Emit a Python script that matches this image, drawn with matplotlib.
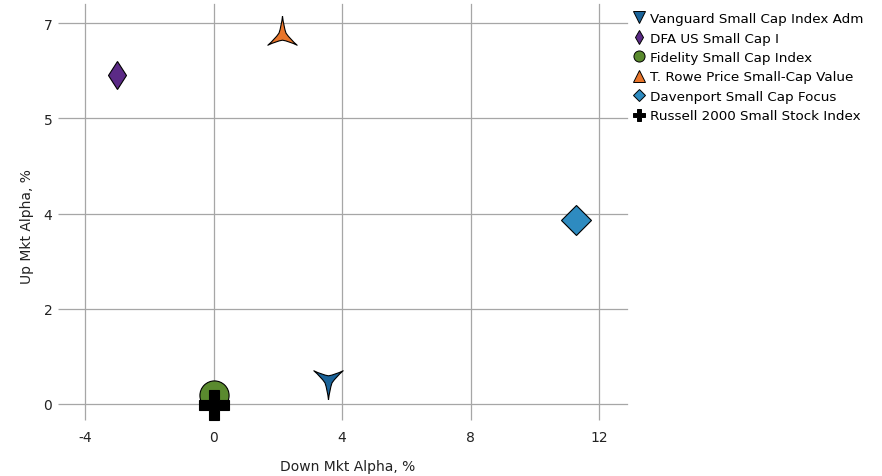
import matplotlib
matplotlib.use("Agg")
import matplotlib.pyplot as plt
from matplotlib.path import Path
from matplotlib.lines import Line2D
import numpy as np

# data
funds = ["Vanguard Small Cap Index Adm", "DFA US Small Cap I", "Fidelity Small Cap Index",
         "T. Rowe Price Small-Cap Value", "Davenport Small Cap Focus", "Russell 2000 Small Stock Index"]
down_alpha = [3.56, -3.0, 0.02, 2.13, 11.28, 0.02]
up_alpha = [0.45, 6.05, 0.17, 6.78, 3.38, -0.01]
colors = ["#1a6399", "#5b2a86", "#5a8a2e", "#e8752a", "#2e8bc0", "#000000"]

xticks = [-4, 0, 4, 8, 12]
yticks = [0, 1.75, 3.5, 5.25, 7]
ytick_labels = ["0", "2", "4", "5", "7"]


def star3(up=True, inner=0.24):
    # three-pointed star, slightly curved sides
    verts = []
    codes = [Path.MOVETO]
    for k in range(3):
        a = np.deg2rad(90 + 120 * k)
        b = np.deg2rad(150 + 120 * k)
        a2 = np.deg2rad(210 + 120 * k)
        tip = np.array([np.cos(a), np.sin(a)])
        mid = inner * np.array([np.cos(b), np.sin(b)])
        nxt = np.array([np.cos(a2), np.sin(a2)])
        if k == 0:
            verts.append(tuple(tip))
        c1 = tip + 0.55 * (mid - tip) + 0.06 * (mid / inner) * -1
        c2 = nxt + 0.55 * (mid - nxt) + 0.06 * (mid / inner) * -1
        verts += [tuple(c1), tuple(mid), tuple(mid), tuple(c2), tuple(nxt)]
        codes += [Path.CURVE3, Path.CURVE3, Path.LINETO, Path.CURVE3, Path.CURVE3]
    verts = np.array(verts)
    verts[:, 0] *= 0.87
    if not up:
        verts[:, 1] *= -1
    return Path(verts, codes)


plot_markers = [star3(up=False), "d", "o", star3(up=True), "D", "P"]
plot_sizes = [28, 14.5, 21, 28, 15, 21]
legend_markers = ["v", "d", "o", "^", "D", "P"]
legend_sizes = [8, 7, 8, 8, 6.5, 8]

plt.rcParams["font.family"] = "DejaVu Sans"
fig = plt.figure(figsize=(8.82, 4.77), dpi=100)
ax = fig.add_axes([85 / 882, 1 - 405 / 477, 542 / 882, 400 / 477])

grid_c = "#a6a6a6"
for i in range(len(funds)):
    ax.plot(down_alpha[i], up_alpha[i], linestyle="none", marker=plot_markers[i],
            markersize=plot_sizes[i], markerfacecolor=colors[i],
            markeredgecolor="#000000", markeredgewidth=0.8,
            clip_on=False, zorder=3 + i)

ax.set_xlim(-4, 12.87)
ax.set_ylim(0, 7.35)
ax.set_xticks(xticks)
ax.set_xticklabels([str(t) for t in xticks])
ax.set_yticks(yticks)
ax.set_yticklabels(ytick_labels)
ax.grid(True, color=grid_c, linewidth=0.9)
ax.set_axisbelow(True)
for gl in ax.get_xgridlines() + ax.get_ygridlines():
    gl.set_clip_on(False)
for s in ax.spines.values():
    s.set_visible(False)
ax.tick_params(axis="y", length=19.5, width=0.9, color=grid_c, pad=4, labelsize=10, labelcolor="#222222")
ax.tick_params(axis="x", length=11.5, width=0.9, color=grid_c, pad=7.5, labelsize=10, labelcolor="#222222")

fig.text(348 / 882, 1 - 467 / 477, "Down Mkt Alpha, %", ha="center", va="center", fontsize=10, color="#222222")
fig.text(27 / 882, 1 - 227 / 477, "Up Mkt Alpha, %", ha="center", va="center", rotation=90,
         fontsize=10, color="#222222")

handles = [Line2D([], [], linestyle="none", marker=legend_markers[i], markersize=legend_sizes[i],
                  markerfacecolor=colors[i], markeredgecolor="#000000", markeredgewidth=0.7)
           for i in range(len(funds))]
ax.legend(handles, funds, loc="upper left", bbox_to_anchor=(0.995, 1.0), frameon=False,
          fontsize=9.7, handlelength=1.0, handletextpad=0.3, labelspacing=0.48,
          borderaxespad=0.3, borderpad=0.3)

fig.savefig("out.png", dpi=100)
